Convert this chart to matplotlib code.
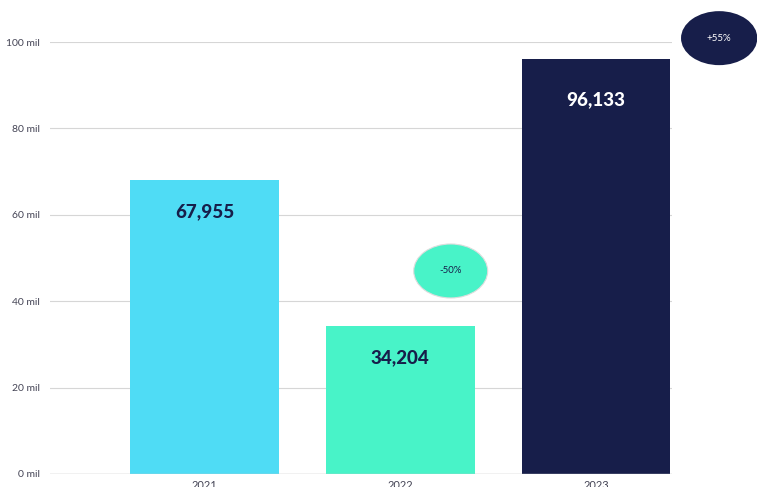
import matplotlib.pyplot as plt
from matplotlib.patches import Ellipse

plt.rcParams['font.family'] = ['Lato', 'DejaVu Sans']

# datos
years = ['2021', '2022', '2023']
values = [67955, 34204, 96133]
colors = ['#4fdcf5', '#48f3c8', '#171e4a']
label_colors = ['#171e4a', '#171e4a', 'white']
changes = ['-50%', '+55%']
yticks = [0, 20, 40, 60, 80, 100]
ytick_labels = ['0 mil', '20 mil', '40 mil', '60 mil', '80 mil', '100 mil']

fig = plt.figure(figsize=(7.57, 4.87), dpi=100)
ax = fig.add_axes([0.066, 0.0267, 0.822, 0.887])

vals_mil = [v / 1000 for v in values]
x = range(len(years))
ax.bar(x, vals_mil, width=0.76, color=colors, zorder=3)

for i, v in enumerate(values):
    ax.annotate(f'{v:,}', (i, vals_mil[i]), xytext=(0, -31 if i < 2 else -41),
                textcoords='offset pixels', ha='center', va='center',
                fontsize=13.5, fontweight=900, color=label_colors[i], zorder=5)

ax.set_xlim(-0.79, 2.39)
ax.set_ylim(0, 100)
ax.set_xticks(list(x))
ax.set_xticklabels(years, fontsize=8, color='#444455')
ax.set_yticks(yticks)
ax.set_yticklabels(ytick_labels, fontsize=7.5, color='#444455')
ax.tick_params(length=0, pad=7.5)
ax.tick_params(axis='x', pad=4)
ax.grid(axis='y', color='#d6d6d6', linewidth=0.8, zorder=0)
for s in ax.spines.values():
    s.set_visible(False)
ax.axhline(0, color='#c8c8c8', linewidth=1, zorder=4)

# burbujas de variacion
e1 = Ellipse((1.258, 47), 0.378, 12.5, facecolor='#48f3c8', edgecolor='#dddddd',
             linewidth=0.8, zorder=6, clip_on=False)
ax.add_patch(e1)
ax.text(1.258, 47, changes[0], ha='center', va='center', fontsize=7,
        color='#171e4a', zorder=7)
e2 = Ellipse((2.63, 100.9), 0.39, 12.5, facecolor='#171e4a', edgecolor='none',
             zorder=6, clip_on=False)
ax.add_patch(e2)
ax.text(2.63, 100.9, changes[1], ha='center', va='center', fontsize=7,
        color='white', zorder=7, clip_on=False)

fig.savefig('out.png', dpi=100)
